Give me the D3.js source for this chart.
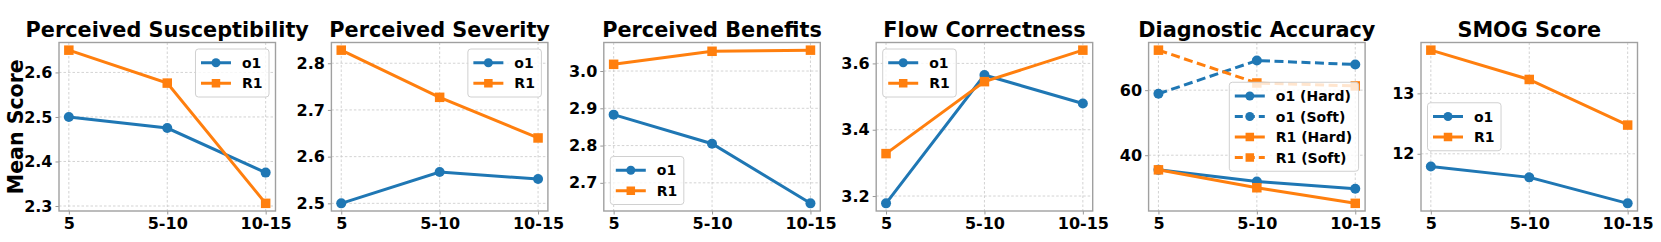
<!DOCTYPE html>
<html>
<head>
<meta charset="utf-8">
<script src="https://cdn.jsdelivr.net/npm/d3@7"></script>
<style>
  html, body { margin: 0; padding: 0; background: #fff; }
  svg { display: block; }
  text { font-family: "DejaVu Sans", sans-serif; font-weight: bold; }
</style>
</head>
<body>
<svg id="chart" width="1661" height="242"></svg>
<script>
// ---- data ----
const categories = ["5", "5-10", "10-15"];
const titles = ["Perceived Susceptibility", "Perceived Severity", "Perceived Benefits",
                "Flow Correctness", "Diagnostic Accuracy", "SMOG Score"];

const susceptibilityO1 = [2.500, 2.475, 2.375];
const susceptibilityR1 = [2.650, 2.576, 2.306];
const severityO1 = [2.500, 2.567, 2.552];
const severityR1 = [2.828, 2.727, 2.640];
const benefitsO1 = [2.883, 2.805, 2.645];
const benefitsR1 = [3.018, 3.053, 3.056];
const flowO1 = [3.178, 3.565, 3.479];
const flowR1 = [3.328, 3.545, 3.640];
const accuracyO1Hard = [35.5, 31.9, 29.7];
const accuracyO1Soft = [58.9, 69.1, 67.9];
const accuracyR1Hard = [35.5, 30.0, 25.2];
const accuracyR1Soft = [72.3, 62.2, 61.3];
const smogO1 = [11.79, 11.61, 11.18];
const smogR1 = [13.715, 13.23, 12.475];

const ticksSusceptibility = [2.3, 2.4, 2.5, 2.6];
const ticksSeverity = [2.5, 2.6, 2.7, 2.8];
const ticksBenefits = [2.7, 2.8, 2.9, 3.0];
const ticksFlow = [3.2, 3.4, 3.6];
const ticksAccuracy = [40, 60];
const ticksSmog = [12, 13];

const seriesNames2 = ["o1", "R1"];
const seriesNames4 = ["o1 (Hard)", "o1 (Soft)", "R1 (Hard)", "R1 (Soft)"];

// ---- styles ----
const BLUE = "#1f77b4", ORANGE = "#ff7f0e";

const panels = [
  { title: titles[0], ticks: ticksSusceptibility, fmt: ".1f", legend: "upper right",
    series: [ {name: seriesNames2[0], values: susceptibilityO1, color: BLUE, marker: "circle"},
              {name: seriesNames2[1], values: susceptibilityR1, color: ORANGE, marker: "square"} ] },
  { title: titles[1], ticks: ticksSeverity, fmt: ".1f", legend: "upper right",
    series: [ {name: seriesNames2[0], values: severityO1, color: BLUE, marker: "circle"},
              {name: seriesNames2[1], values: severityR1, color: ORANGE, marker: "square"} ] },
  { title: titles[2], ticks: ticksBenefits, fmt: ".1f", legend: "lower left",
    series: [ {name: seriesNames2[0], values: benefitsO1, color: BLUE, marker: "circle"},
              {name: seriesNames2[1], values: benefitsR1, color: ORANGE, marker: "square"} ] },
  { title: titles[3], ticks: ticksFlow, fmt: ".1f", legend: "upper left",
    series: [ {name: seriesNames2[0], values: flowO1, color: BLUE, marker: "circle"},
              {name: seriesNames2[1], values: flowR1, color: ORANGE, marker: "square"} ] },
  { title: titles[4], ticks: ticksAccuracy, fmt: "d", legend: "center right",
    series: [ {name: seriesNames4[0], values: accuracyO1Hard, color: BLUE, marker: "circle"},
              {name: seriesNames4[1], values: accuracyO1Soft, color: BLUE, marker: "circle", dashed: true},
              {name: seriesNames4[2], values: accuracyR1Hard, color: ORANGE, marker: "square"},
              {name: seriesNames4[3], values: accuracyR1Soft, color: ORANGE, marker: "square", dashed: true} ] },
  { title: titles[5], ticks: ticksSmog, fmt: "d", legend: "center left",
    series: [ {name: seriesNames2[0], values: smogO1, color: BLUE, marker: "circle"},
              {name: seriesNames2[1], values: smogR1, color: ORANGE, marker: "square"} ] },
];

const svg = d3.select("#chart");
const LEFT0 = 59, STEP = 272.4, W = 216.5, TOP = 42.5, BOTTOM = 211;
const LW = 3, R = 5, SQ = 9.5, DASH = "9,4.5";

function drawMarker(g, type, x, y, color, r, sq) {
  if (type === "circle") {
    g.append("circle").attr("cx", x).attr("cy", y).attr("r", r).attr("fill", color);
  } else {
    g.append("rect").attr("x", x - sq / 2).attr("y", y - sq / 2)
      .attr("width", sq).attr("height", sq).attr("fill", color);
  }
}

panels.forEach((p, i) => {
  const x0 = LEFT0 + i * STEP, x1 = x0 + W;
  const g = svg.append("g");

  // categorical positions 0..2 with 5% margins on each side
  const xs = d3.scaleLinear().domain([-0.1, 2.1]).range([x0, x1]);
  const xpos = c => xs(categories.indexOf(c));

  const all = p.series.flatMap(s => s.values);
  const mn = d3.min(all), mx = d3.max(all), pad = (mx - mn) * 0.05;
  const y = d3.scaleLinear().domain([mn - pad, mx + pad]).range([BOTTOM, TOP]);

  // grid
  const grid = g.append("g");
  p.ticks.forEach(t => {
    grid.append("line").attr("x1", x0).attr("x2", x1).attr("y1", y(t)).attr("y2", y(t))
      .attr("stroke", "#c8c8c8").attr("stroke-width", 0.8).attr("stroke-dasharray", "2.5,2");
  });
  categories.forEach(c => {
    grid.append("line").attr("x1", xpos(c)).attr("x2", xpos(c)).attr("y1", TOP).attr("y2", BOTTOM)
      .attr("stroke", "#c8c8c8").attr("stroke-width", 0.8).attr("stroke-dasharray", "2.5,2");
  });

  // axes
  const yAxis = d3.axisLeft(y).tickValues(p.ticks).tickFormat(d3.format(p.fmt)).tickSizeOuter(0).tickSize(3.5).tickPadding(3);
  const ya = g.append("g").attr("transform", `translate(${x0},0)`).call(yAxis);
  ya.select(".domain").remove();
  ya.selectAll(".tick line").attr("stroke", "#999");
  ya.selectAll(".tick text").attr("font-size", 16).attr("fill", "#000")
    .style("font-family", "DejaVu Sans").style("font-weight", "bold");

  const xAxis = d3.axisBottom(xs).tickValues([0, 1, 2]).tickFormat(d => categories[d]).tickSizeOuter(0).tickSize(3.5).tickPadding(3);
  const xa = g.append("g").attr("transform", `translate(0,${BOTTOM})`).call(xAxis);
  xa.select(".domain").remove();
  xa.selectAll(".tick line").attr("stroke", "#999");
  xa.selectAll(".tick text").attr("font-size", 16).attr("fill", "#000")
    .style("font-family", "DejaVu Sans").style("font-weight", "bold");

  // series
  const line = d3.line().x((d, k) => xpos(categories[k])).y(d => y(d));
  p.series.forEach(s => {
    g.append("path").datum(s.values).attr("d", line).attr("fill", "none")
      .attr("stroke", s.color).attr("stroke-width", LW)
      .attr("stroke-dasharray", s.dashed ? DASH : null);
    s.values.forEach((v, k) => drawMarker(g, s.marker, xpos(categories[k]), y(v), s.color, R, SQ));
  });

  // frame
  g.append("rect").attr("x", x0).attr("y", TOP).attr("width", W).attr("height", BOTTOM - TOP)
    .attr("fill", "none").attr("stroke", "#a0a0a0").attr("stroke-width", 1.4);

  // title
  g.append("text").attr("x", (x0 + x1) / 2).attr("y", 36.5).attr("text-anchor", "middle")
    .attr("font-size", 20.8).text(p.title);

  // legend
  const FS = 14, ROW = 20.5, PADL = 5.5, HL = 30, HTP = 11, PADR = 6.5, PADV = 3.5, AX = 6.5;
  const lg = g.append("g");
  const box = lg.append("rect");
  const texts = p.series.map(s => lg.append("text").attr("font-size", FS).text(s.name));
  const tw = d3.max(texts, t => t.node().getComputedTextLength());
  const bw = PADL + HL + HTP + tw + PADR;
  const bh = p.series.length * ROW + 2 * PADV;
  let bx, by;
  if (p.legend === "upper right") { bx = x1 - AX - bw; by = TOP + AX; }
  else if (p.legend === "upper left") { bx = x0 + AX; by = TOP + AX; }
  else if (p.legend === "lower left") { bx = x0 + AX; by = BOTTOM - AX - bh; }
  else if (p.legend === "center right") { bx = x1 - AX - bw; by = (TOP + BOTTOM) / 2 - bh / 2; }
  else { bx = x0 + AX; by = (TOP + BOTTOM) / 2 - bh / 2; }
  box.attr("x", bx).attr("y", by).attr("width", bw).attr("height", bh).attr("rx", 3)
    .attr("fill", "rgba(255,255,255,0.8)").attr("stroke", "#d0d0d0").attr("stroke-width", 1);
  p.series.forEach((s, k) => {
    const cy = by + PADV + ROW * (k + 0.5);
    lg.append("line").attr("x1", bx + PADL).attr("x2", bx + PADL + HL).attr("y1", cy).attr("y2", cy)
      .attr("stroke", s.color).attr("stroke-width", LW).attr("stroke-dasharray", s.dashed ? "8,4" : null);
    drawMarker(lg, s.marker, bx + PADL + HL / 2, cy, s.color, 4.5, 8.5);
    texts[k].attr("x", bx + PADL + HL + HTP).attr("y", cy + 5.2).raise();
  });
});

// y label
svg.append("text").attr("transform", `translate(${23},${(TOP + BOTTOM) / 2}) rotate(-90)`)
  .attr("text-anchor", "middle").attr("font-size", 20.5).text("Mean Score");
</script>
</body>
</html>
